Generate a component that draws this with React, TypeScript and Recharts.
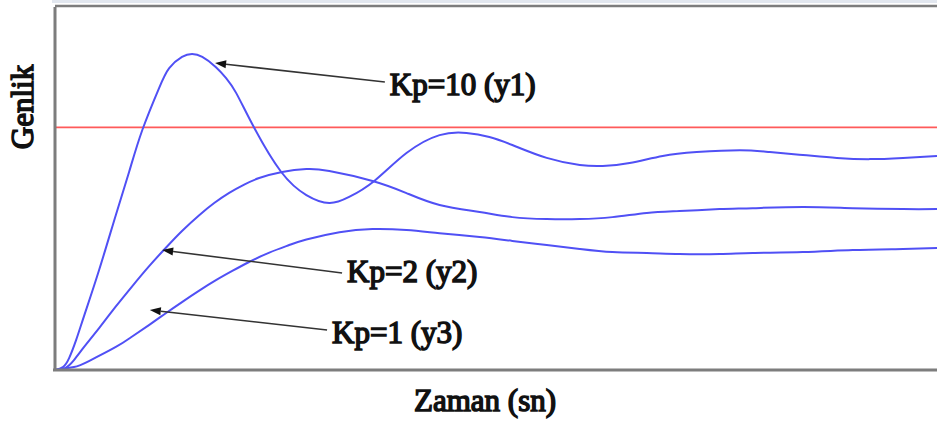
import { LineChart, Line, XAxis, YAxis, ReferenceLine } from "recharts";

// step responses sampled over 0..20 s
const y1Time = [0, 0.18, 0.32, 0.48, 0.66, 1.0, 1.38, 1.68, 1.98, 2.36, 2.59, 2.88, 3.11, 3.34, 3.65, 3.88, 4.11, 4.52, 5.13, 5.7, 6.22, 6.67, 7.24, 7.97, 8.72, 9.33, 9.85, 10.37, 11.15, 11.9, 12.42, 13.03, 13.78, 14.55, 15.53, 16.21, 16.96, 17.73, 18.48, 19.23, 20];
const y1Value = [0, 0.012, 0.049, 0.124, 0.223, 0.412, 0.639, 0.816, 0.989, 1.162, 1.244, 1.29, 1.302, 1.29, 1.248, 1.203, 1.141, 0.997, 0.816, 0.721, 0.688, 0.713, 0.779, 0.894, 0.968, 0.977, 0.96, 0.927, 0.874, 0.845, 0.841, 0.853, 0.882, 0.898, 0.906, 0.898, 0.886, 0.874, 0.869, 0.874, 0.882];

const y2Time = [0, 0.23, 0.43, 0.66, 1.0, 1.38, 1.75, 2.13, 2.52, 2.88, 3.27, 3.61, 3.95, 4.29, 4.63, 5.15, 5.7, 6.22, 7.2, 7.97, 8.72, 9.63, 10.37, 11.15, 11.9, 12.64, 13.42, 14.16, 15.07, 15.82, 16.96, 18.09, 19.23, 20];
const y2Value = [0, 0.008, 0.041, 0.095, 0.173, 0.262, 0.345, 0.427, 0.505, 0.573, 0.638, 0.688, 0.73, 0.764, 0.791, 0.816, 0.828, 0.82, 0.779, 0.729, 0.68, 0.651, 0.63, 0.622, 0.622, 0.63, 0.647, 0.655, 0.663, 0.667, 0.672, 0.667, 0.663, 0.663];

const y3Time = [0, 0.43, 0.77, 1.38, 1.75, 2.13, 2.52, 2.88, 3.27, 3.65, 4.02, 4.4, 4.86, 5.31, 5.7, 6.45, 7.2, 7.97, 8.72, 9.63, 10.37, 11.15, 11.9, 12.64, 13.42, 14.16, 15.07, 15.82, 16.96, 18.09, 19.23, 20];
const y3Value = [0, 0.012, 0.037, 0.095, 0.138, 0.185, 0.235, 0.28, 0.327, 0.37, 0.408, 0.445, 0.484, 0.515, 0.538, 0.568, 0.581, 0.577, 0.564, 0.548, 0.532, 0.515, 0.499, 0.486, 0.482, 0.478, 0.478, 0.482, 0.486, 0.494, 0.499, 0.503];

const setpoint = 1;

// annotation arrows: label text, tail (near the text) and head (on the curve)
const noteLabels = ["Kp=10 (y1)", "Kp=2 (y2)", "Kp=1 (y3)"];
const noteTail = [
  { x: 7.48, y: 1.187 },
  { x: 6.51, y: 0.4 },
  { x: 6.17, y: 0.165 },
];
const noteHead = [
  { x: 3.63, y: 1.265 },
  { x: 2.43, y: 0.494 },
  { x: 2.15, y: 0.247 },
];
const noteBaseline = [13, 9, 13];

const toPoints = (t: number[], v: number[]) => t.map((x, i) => ({ t: x, v: v[i] }));

const series = [
  { key: "y1", data: toPoints(y1Time, y1Value) },
  { key: "y2", data: toPoints(y2Time, y2Value) },
  { key: "y3", data: toPoints(y3Time, y3Value) },
];

const FRAME = "#7d7d7d";
const CURVE = "#5050f5";

// serif text thickened with a thin outline, since only the regular face is available
const boldSerif = {
  fontFamily: "Liberation Serif",
  fontWeight: "normal" as const,
  fill: "#111",
  stroke: "#111",
  strokeWidth: 1.5,
};

function Arrow(props: any, i: number) {
  const { x1, y1, x2, y2 } = props;
  const ang = Math.atan2(y1 - y2, x1 - x2);
  const len = 11;
  const w = 4;
  const bx = x2 + Math.cos(ang) * len;
  const by = y2 + Math.sin(ang) * len;
  const px = -Math.sin(ang) * w;
  const py = Math.cos(ang) * w;
  return (
    <g>
      <line x1={x1} y1={y1} x2={bx} y2={by} stroke="#333" strokeWidth={1.6} />
      <polygon points={`${x2},${y2} ${bx + px},${by + py} ${bx - px},${by - py}`} fill="#111" />
      <text x={x1 + 5} y={y1 + noteBaseline[i]} fontSize={31} {...boldSerif}>
        {noteLabels[i]}
      </text>
    </g>
  );
}

// x axis frame line with its title underneath
function BottomFrame(props: any) {
  const { x1, y1, x2, y2 } = props;
  return (
    <g>
      <line x1={x1 - 2} y1={y1} x2={x2} y2={y2} stroke={FRAME} strokeWidth={3} />
      <text x={485} y={y1 + 41} textAnchor="middle" fontSize={31} {...boldSerif}>
        Zaman (sn)
      </text>
    </g>
  );
}

// y axis frame line with its rotated title
function LeftFrame(props: any) {
  const { x1, y1, x2, y2 } = props;
  const cx = x1 - 22;
  const cy = 107;
  return (
    <g>
      <line x1={x1} y1={y1 - 1} x2={x2} y2={y2 + 1} stroke={FRAME} strokeWidth={3} />
      <text
        x={cx}
        y={cy}
        textAnchor="middle"
        transform={`rotate(-90 ${cx} ${cy})`}
        fontSize={31}
        {...boldSerif}
      >
        Genlik
      </text>
    </g>
  );
}

export default function App() {
  return (
    <div style={{ position: "absolute", left: 0, top: 0, width: 937, height: 421, overflow: "hidden", background: "#fff" }}>
      <div style={{ position: "absolute", left: 52, top: 0, width: 885, height: 3, background: "#e2e7ef" }} />
      <LineChart
        width={937}
        height={421}
        margin={{ top: 6, right: 0, bottom: 51, left: 55 }}
        style={{ position: "absolute", left: 0, top: 0 }}
      >
        <XAxis type="number" dataKey="t" domain={[0, 20]} hide allowDuplicatedCategory={false} />
        <YAxis type="number" domain={[0, 1.5]} hide />
        <ReferenceLine y={1.5} stroke={FRAME} strokeWidth={2.5} />
        <ReferenceLine y={setpoint} stroke="#ff5a5a" strokeWidth={1.6} />
        {series.map((s) => (
          <Line
            key={s.key}
            data={s.data}
            dataKey="v"
            type="natural"
            stroke={CURVE}
            strokeWidth={2}
            dot={false}
            isAnimationActive={false}
          />
        ))}
        <ReferenceLine y={0} shape={BottomFrame} />
        <ReferenceLine x={0} shape={LeftFrame} />
        {noteLabels.map((label, i) => (
          <ReferenceLine key={label} segment={[noteTail[i], noteHead[i]]} shape={(p: any) => Arrow(p, i)} />
        ))}
      </LineChart>
    </div>
  );
}
